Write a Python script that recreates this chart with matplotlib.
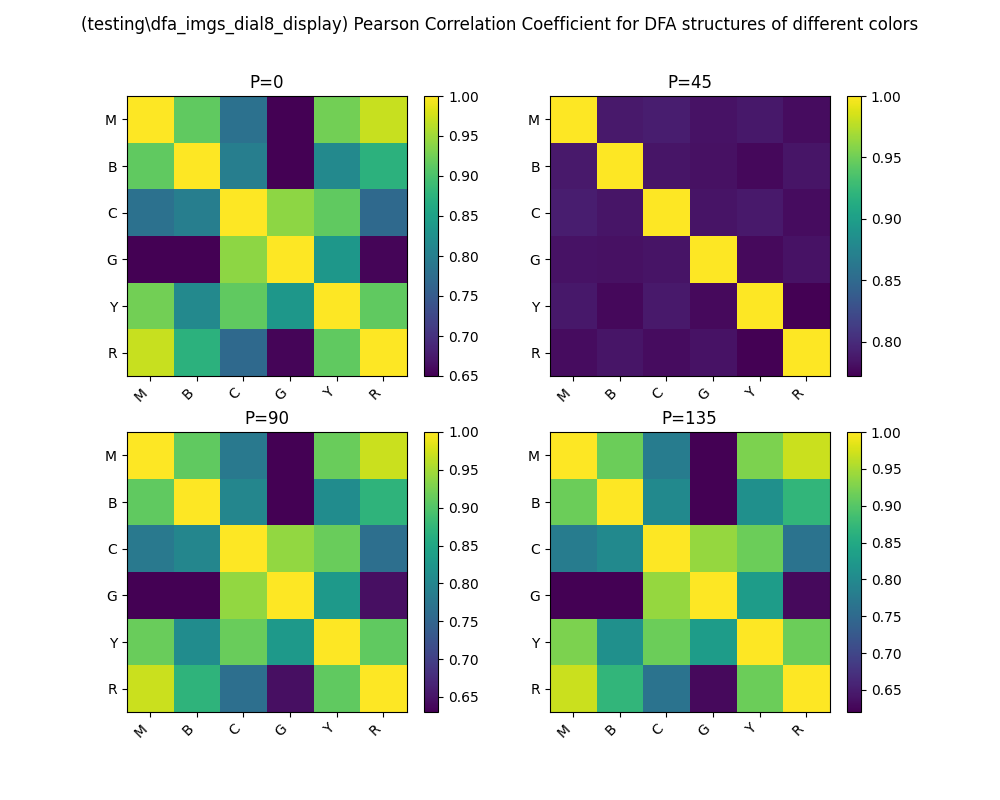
import numpy as np
import matplotlib
matplotlib.use("Agg")
import matplotlib.pyplot as plt

labels = ["M", "B", "C", "G", "Y", "R"]
angles = [0, 45, 90, 135]

# upper-triangle pairs: (M,B),(M,C),(M,G),(M,Y),(M,R),(B,C),(B,G),(B,Y),(B,R),(C,G),(C,Y),(C,R),(G,Y),(G,R),(Y,R)
pairs_p0 = [0.915, 0.78, 0.65, 0.925, 0.97, 0.80, 0.65, 0.815, 0.875, 0.94, 0.915, 0.77, 0.835, 0.655, 0.915]
pairs_p45 = [0.788, 0.790, 0.783, 0.787, 0.780, 0.785, 0.782, 0.777, 0.785, 0.784, 0.788, 0.780, 0.778, 0.783, 0.772]
pairs_p90 = [0.91, 0.78, 0.63, 0.915, 0.97, 0.80, 0.63, 0.81, 0.87, 0.94, 0.915, 0.765, 0.83, 0.645, 0.91]
pairs_p135 = [0.915, 0.78, 0.62, 0.925, 0.97, 0.80, 0.62, 0.81, 0.87, 0.94, 0.915, 0.765, 0.83, 0.63, 0.915]


def build(pairs):
    n = len(labels)
    m = np.ones((n, n))
    iu = np.triu_indices(n, 1)
    m[iu] = pairs
    m[(iu[1], iu[0])] = pairs
    return m


mats = [build(p) for p in [pairs_p0, pairs_p45, pairs_p90, pairs_p135]]

fig, axes = plt.subplots(2, 2, figsize=(10, 8), dpi=100)
fig.suptitle(r"(testing\dfa_imgs_dial8_display) Pearson Correlation Coefficient for DFA structures of different colors")
for ax, m, a in zip(axes.flat, mats, angles):
    im = ax.imshow(m, cmap="viridis")
    ax.set_title(f"P={a}")
    ax.set_xticks(range(len(labels)))
    ax.set_xticklabels(labels, rotation=45, ha="right")
    ax.set_yticks(range(len(labels)))
    ax.set_yticklabels(labels)
    fig.colorbar(im, ax=ax)

plt.savefig("out.png")
